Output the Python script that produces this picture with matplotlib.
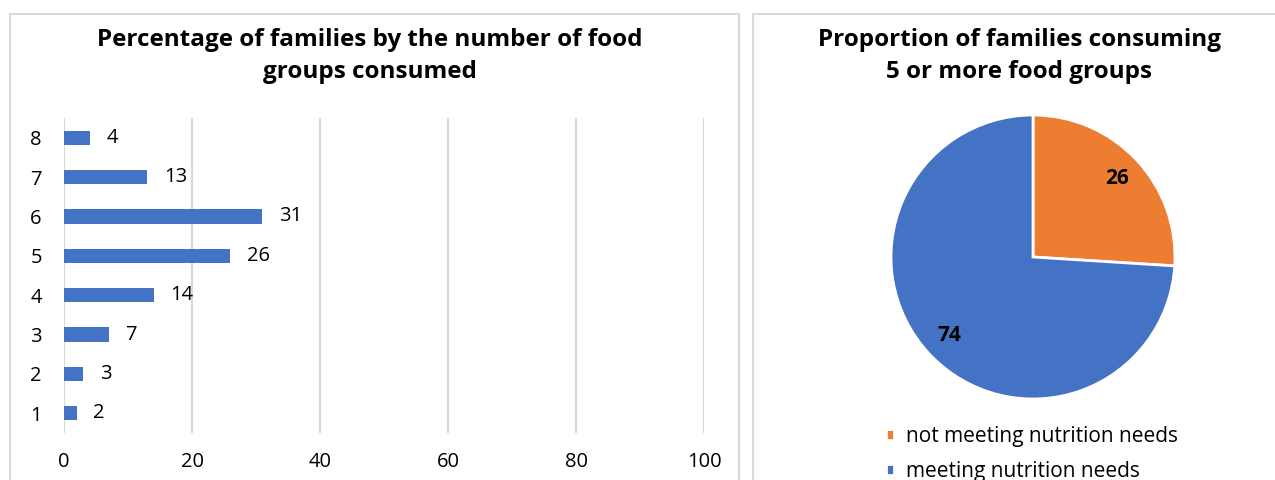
import matplotlib.pyplot as plt
from matplotlib.patches import Rectangle

plt.rcParams['font.family'] = ['Open Sans', 'DejaVu Sans']

# food groups consumed -> % of families
groups = ['1', '2', '3', '4', '5', '6', '7', '8']
families_pct = [2, 3, 7, 14, 26, 31, 13, 4]

# share of families consuming 5+ food groups
pie_labels = ['not meeting nutrition needs', 'meeting nutrition needs']
pie_values = [26, 74]

BLUE = '#4472C4'
ORANGE = '#ED7D31'
GRID = '#D9D9D9'

W, H = 1275, 480
fig = plt.figure(figsize=(W / 100, H / 100), dpi=100)


def box(x0, y0, x1, y1):
    # pixel box (top-left origin) -> figure fraction rect
    return [x0 / W, 1 - y1 / H, (x1 - x0) / W, (y1 - y0) / H]


# chart area outlines
for x0, x1 in [(10, 739), (753, 1290)]:
    fig.patches.append(Rectangle((x0 / W, -0.1), (x1 - x0) / W, 1 - 14 / H + 0.1,
                                 transform=fig.transFigure, fill=False,
                                 edgecolor=GRID, linewidth=1.5))

# ---- bar chart ----
ax = fig.add_axes(box(64, 118, 704, 433))
y = range(1, len(groups) + 1)
bars = ax.barh(y, families_pct, height=0.36, color=BLUE)
ax.bar_label(bars, labels=[str(v) for v in families_pct], padding=12, fontsize=14.5)
ax.set_xlim(0, 100)
ax.set_ylim(0.5, len(groups) + 0.5)
ax.set_yticks(list(y))
ax.set_yticklabels(groups)
ax.set_xticks([0, 20, 40, 60, 80, 100])
ax.tick_params(axis='both', length=0, labelsize=14.5)
ax.tick_params(axis='y', pad=16)
ax.tick_params(axis='x', pad=14)
ax.grid(axis='x', color=GRID, linewidth=1.5)
ax.set_axisbelow(True)
for s in ax.spines.values():
    s.set_visible(False)

fig.text(370 / W, 1 - 56 / H, 'Percentage of families by the number of food\ngroups consumed',
         ha='center', va='center', fontsize=17.5, fontweight='bold', linespacing=1.5)

# ---- pie chart ----
cx, cy, r = 1033, 257, 142
pax = fig.add_axes(box(cx - r, cy - r, cx + r, cy + r))
wedges, _, autotexts = pax.pie(pie_values, colors=[ORANGE, BLUE], startangle=90,
                               counterclock=False, radius=1,
                               autopct=lambda p: f'{p:.0f}', pctdistance=0.81,
                               wedgeprops=dict(edgecolor='white', linewidth=2))
for t in autotexts:
    t.set_fontsize(15)
    t.set_fontweight('bold')
pax.set_xlim(-1.0, 1.0)
pax.set_ylim(-1.0, 1.0)
pax.set_aspect('equal')
pax.axis('off')

fig.text(1019 / W, 1 - 56 / H, 'Proportion of families consuming\n5 or more food groups',
         ha='center', va='center', fontsize=17.5, fontweight='bold', linespacing=1.5)

fig.legend(wedges, pie_labels, loc='upper left', bbox_to_anchor=(886 / W, 1 - 426 / H),
           frameon=False, fontsize=15, handlelength=0.4, handleheight=0.4,
           handletextpad=0.55, labelspacing=0.68, borderpad=0, borderaxespad=0)

fig.savefig('out.png', dpi=100)
